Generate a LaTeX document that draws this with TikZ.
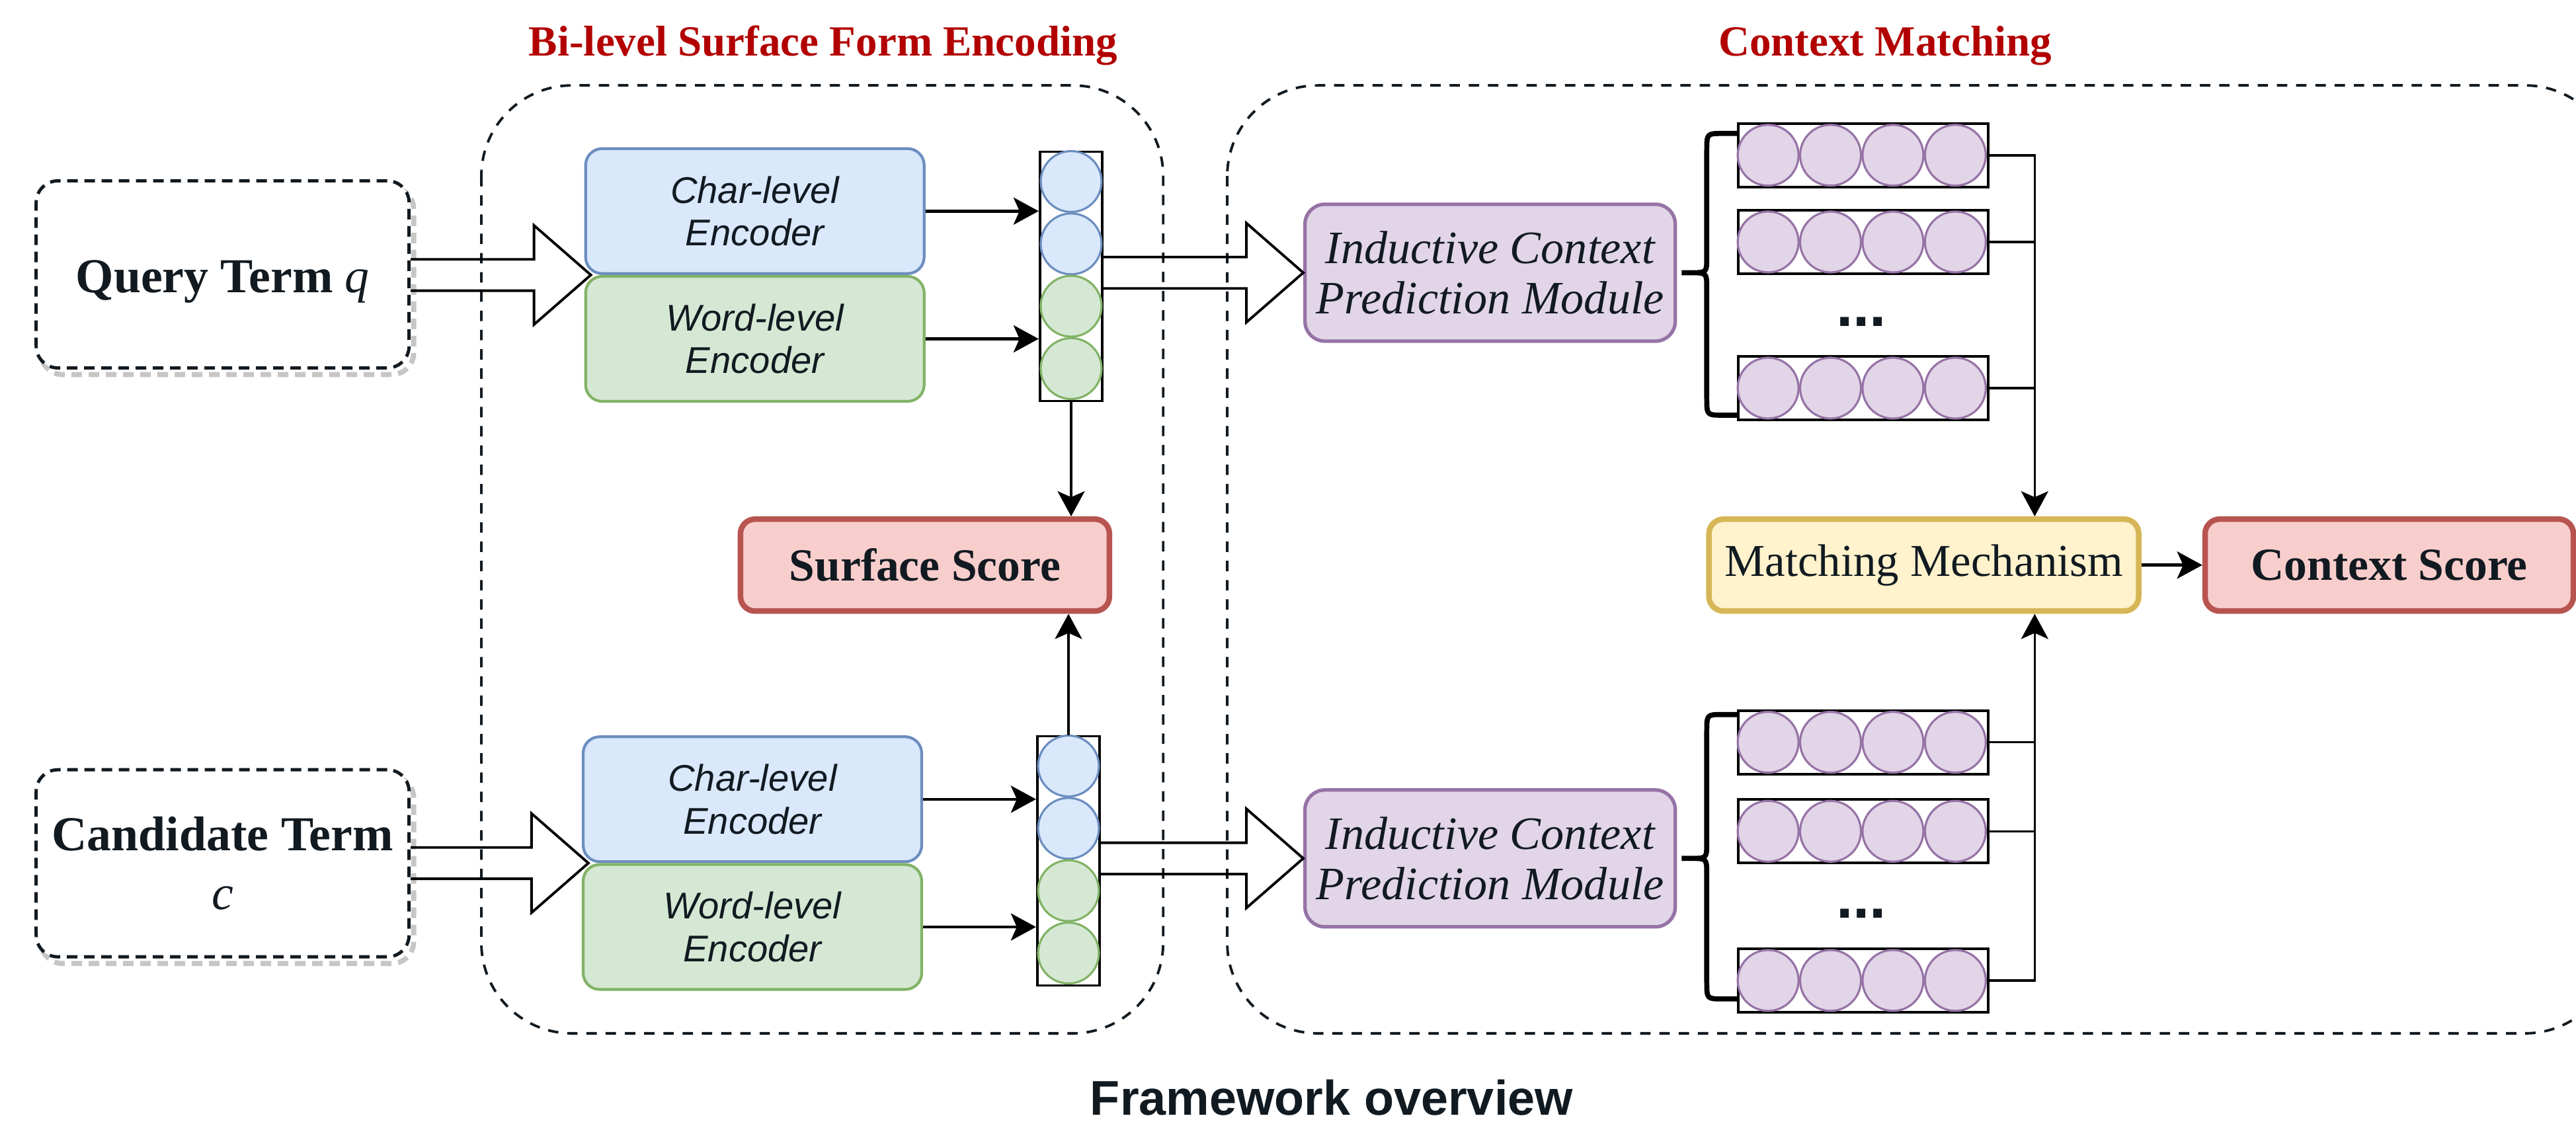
\documentclass[tikz,border=0pt]{standalone}
\usepackage{fontspec}
\setmainfont{Liberation Serif}
\setsansfont{Liberation Sans}
\usetikzlibrary{positioning,calc,arrows.meta}

\definecolor{ink}{HTML}{121A21}
\definecolor{titlered}{HTML}{B20000}
\definecolor{fblue}{HTML}{DAE8FC}   \definecolor{dblue}{HTML}{6C8EBF}
\definecolor{fgreen}{HTML}{D5E8D4}  \definecolor{dgreen}{HTML}{82B366}
\definecolor{fpurple}{HTML}{E1D5E7} \definecolor{dpurple}{HTML}{9673A6}
\definecolor{fyellow}{HTML}{FFF2CC} \definecolor{dyellow}{HTML}{D6B656}
\definecolor{fred}{HTML}{F8CECC}    \definecolor{dred}{HTML}{B85450}

\tikzset{
  termbox/.style={draw=ink, fill=white, line width=1.4pt, dash pattern=on 0.16cm off 0.1cm,
    rounded corners=0.33cm, minimum width=5.64cm, minimum height=2.83cm,
    align=center, text=ink, font=\fontsize{21}{25.5}\selectfont\bfseries},
  termshadow/.style={draw=gray!45, line width=2.2pt, dash pattern=on 0.16cm off 0.1cm,
    rounded corners=0.33cm, minimum width=5.64cm, minimum height=2.83cm},
  groupbox/.style={draw=ink, line width=1.1pt, dash pattern=on 0.157cm off 0.134cm,
    rounded corners=1.37cm},
  grouptitle/.style={anchor=base, text=titlered, font=\fontsize{18.5}{22}\selectfont\bfseries},
  encbox/.style={rounded corners=0.25cm, line width=1.2pt, minimum width=5.12cm,
    minimum height=1.89cm, align=center, text=ink,
    font=\fontsize{16}{18.3}\selectfont\sffamily\itshape},
  vecbox/.style={draw=black, line width=1.1pt, inner sep=0pt},
  cell/.style={circle, line width=0.9pt, minimum size=0.92cm, inner sep=0pt},
  scorebox/.style={fill=fred, draw=dred, line width=2.4pt, rounded corners=0.22cm,
    minimum width=5.58cm, minimum height=1.39cm, text=ink,
    font=\fontsize{19.8}{22}\selectfont\bfseries},
  icpbox/.style={fill=fpurple, draw=dpurple, line width=1.5pt, rounded corners=0.3cm,
    minimum width=5.6cm, minimum height=2.07cm, align=center, text=ink,
    font=\fontsize{20}{21.6}\selectfont\itshape},
  matchbox/.style={fill=fyellow, draw=dyellow, line width=2.4pt, rounded corners=0.22cm,
    minimum width=6.5cm, minimum height=1.39cm, text=ink,
    font=\fontsize{19.6}{22}\selectfont},
  dots/.style={text=ink, inner sep=0pt, font=\fontsize{26}{26}\selectfont\sffamily\bfseries},
  caption/.style={anchor=base, text=ink, font=\fontsize{21}{24}\selectfont\sffamily\bfseries},
  link/.style={line width=1pt},
  feed/.style={line width=1.3pt, ->},
  hollowarrow/.style={line width=1.1pt, line join=miter},
  bracepath/.style={line width=2.2pt, line join=round},
}

% open block arrow: shaft leaves #1, tip sits on #2
\newcommand{\blockarrow}[2]{%
  \draw[hollowarrow] let \p1=(#1), \p2=(#2) in
    (\x1,\y2+0.237cm) -- (\x2-0.86cm,\y2+0.237cm) -- (\x2-0.86cm,\y2+0.75cm)
    -- (\p2) -- (\x2-0.86cm,\y2-0.75cm) -- (\x2-0.86cm,\y2-0.237cm)
    -- (\x1,\y2-0.237cm);}

% curly brace: tip #1, upper end #2, lower end #3
\newcommand{\rowbrace}[3]{%
  \draw[bracepath] let \p1=(#1), \p2=(#2), \p3=(#3) in
    (\p2) -- (\x1+0.62cm,\y2)
    .. controls (\x1+0.38cm,\y2) .. (\x1+0.38cm,\y2-0.26cm)
    -- (\x1+0.38cm,\y1+0.24cm)
    .. controls (\x1+0.38cm,\y1) .. (\x1+0.14cm,\y1) -- (\p1)
    (\x1+0.14cm,\y1)
    .. controls (\x1+0.38cm,\y1) .. (\x1+0.38cm,\y1-0.24cm)
    -- (\x1+0.38cm,\y3+0.26cm)
    .. controls (\x1+0.38cm,\y3) .. (\x1+0.62cm,\y3) -- (\p3);}

\begin{document}
\begin{tikzpicture}[>={Stealth[length=0.38cm,width=0.41cm,inset=0.09cm]}]
\useasboundingbox (0,0) rectangle (38.96,17);

% the two stages
\draw[groupbox] (7.28,15.708) rectangle (17.592,1.371);
\begin{scope}
  \clip (0,0) rectangle (38.96,17);
  \draw[groupbox] (18.561,15.708) rectangle (39.56,1.371);
\end{scope}
\node[grouptitle] (tsurf) at (12.45,16.155) {Bi-level Surface Form Encoding};
\node[grouptitle] (tctx) at (28.51,16.155) {Context Matching};

% inputs
\node[termshadow] at (3.437,12.75) {};
\node[termbox, text height=0.72cm, text depth=0.16cm] (qterm) at (3.367,12.85) {Query Term {\mdseries\itshape q}};
\node[termshadow] at (3.437,3.843) {};
\node[termbox] (cterm) at (3.367,3.943) {Candidate Term\\{\mdseries\itshape c}};

% encoders
\node[encbox, fill=fblue, draw=dblue] (qchar) at (11.417,13.807) {Char-level\\Encoder};
\node[encbox, fill=fgreen, draw=dgreen, below=0pt of qchar] (qword) {Word-level\\Encoder};
\node[encbox, fill=fblue, draw=dblue] (cchar) at (11.38,4.912) {Char-level\\Encoder};
\node[encbox, fill=fgreen, draw=dgreen, below=0pt of cchar] (cword) {Word-level\\Encoder};

\blockarrow{qterm.east}{$(qchar.south west)+(0.1,0)$}
\blockarrow{cterm.east}{$(cchar.south west)+(0.1,0)$}

% concatenated term vectors
\node[vecbox, minimum width=0.944cm, minimum height=3.77cm] (qvec) at (16.2,12.82) {};
\foreach \i/\c in {1/blue,2/blue,3/green,4/green}
  \node[cell, fill=f\c, draw=d\c] (qv\i) at ($(qvec.north)+(0,{-0.47-0.943*(\i-1)})$) {};
\node[vecbox, minimum width=0.944cm, minimum height=3.77cm] (cvec) at (16.16,3.98) {};
\foreach \i/\c in {1/blue,2/blue,3/green,4/green}
  \node[cell, fill=f\c, draw=d\c] (cv\i) at ($(cvec.north)+(0,{-0.47-0.943*(\i-1)})$) {};

\draw[feed] (qchar.east) -- (qchar.east -| qvec.west);
\draw[feed] (qword.east) -- (qword.east -| qvec.west);
\draw[feed] (cchar.east) -- (cchar.east -| cvec.west);
\draw[feed] (cword.east) -- (cword.east -| cvec.west);

% surface score
\node[scorebox] (ssc) at (13.989,8.453) {Surface Score};
\draw[link, ->] (qvec.south) -- (qvec.south |- ssc.north);
\draw[link, ->] (cvec.north) -- (cvec.north |- ssc.south);

% context prediction
\node[icpbox] (icp1) at (22.537,12.875) {Inductive Context\\Prediction Module};
\node[icpbox] (icp2) at (22.537,4.017) {Inductive Context\\Prediction Module};
\blockarrow{qvec.east}{icp1.west}
\blockarrow{cvec.east}{icp2.west}

% predicted context vectors
\foreach \n/\y in {r1/14.652, r2/13.34, r3/11.13, s1/5.774, s2/4.427, s3/2.171} {
  \node[vecbox, minimum width=3.777cm, minimum height=0.96cm] (\n) at (28.177,\y) {};
  \foreach \k in {1,...,4}
    \node[cell, fill=fpurple, draw=dpurple] at ($(\n.west)+({0.472*(2*\k-1)},0)$) {};
}
\node[dots] (gap1) at (28.152,12.13) {...};
\node[dots] (gap2) at (28.152,3.185) {...};

\rowbrace{$(icp1.east)+(0.07,0)$}{$(r1.north west)+(0,-0.17)$}{$(r3.south west)+(0,0.09)$}
\rowbrace{$(icp2.east)+(0.07,0)$}{$(s1.north west)+(0,-0.08)$}{$(s3.south west)+(0,0.22)$}

% matching
\node[matchbox] (mm) at (29.096,8.453) {Matching Mechanism};
\node[scorebox, minimum width=5.57cm] (csc) at (36.135,8.453) {Context Score};
\coordinate (bus) at (30.773,8.453);

\draw[link, ->] (r1.east) -| (bus |- mm.north);
\draw[link] (r2.east) -- (r2.east -| bus);
\draw[link] (r3.east) -- (r3.east -| bus);
\draw[link, ->] (s3.east) -| (bus |- mm.south);
\draw[link] (s1.east) -- (s1.east -| bus);
\draw[link] (s2.east) -- (s2.east -| bus);
\draw[link, line width=1.5pt, ->] (mm.east) -- (csc.west);

\node[caption] (cap) at (20.14,0.13) {Framework overview};
\end{tikzpicture}
\end{document}
